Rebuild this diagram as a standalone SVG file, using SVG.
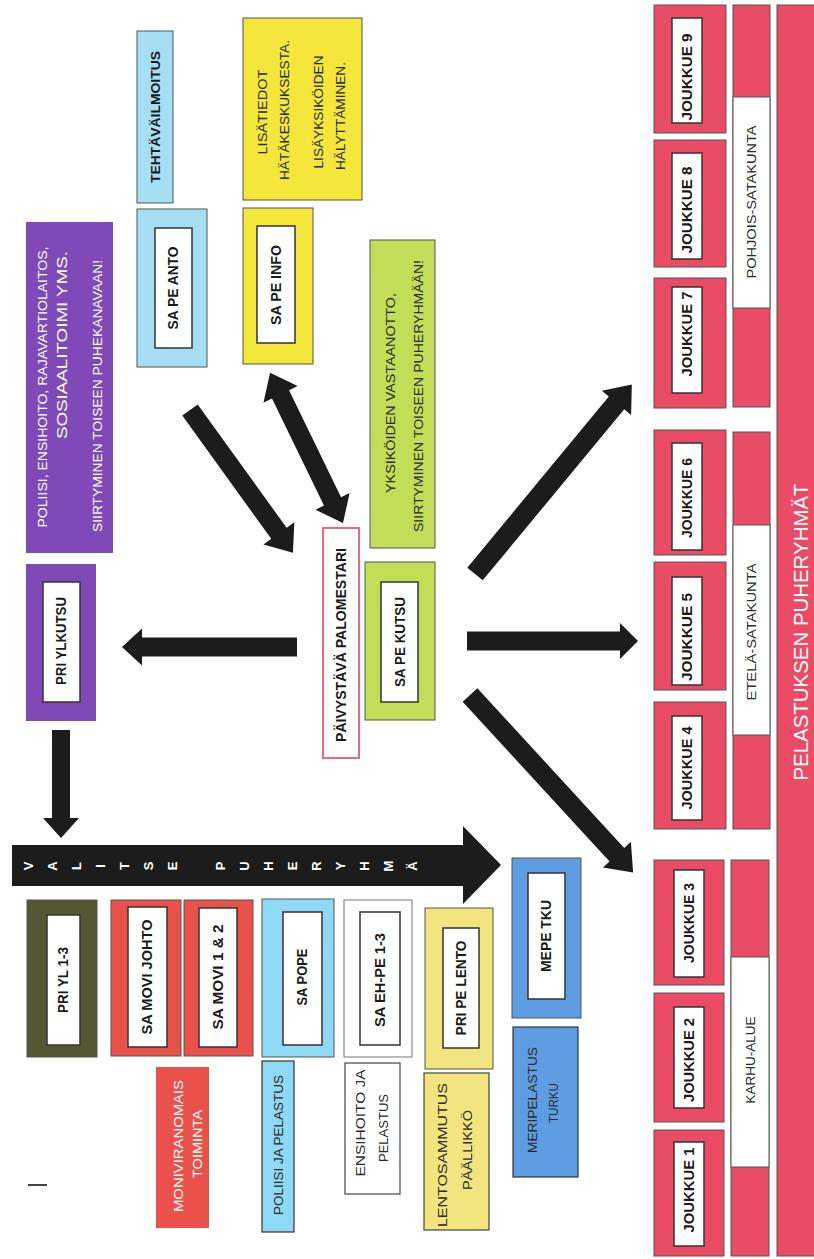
<svg xmlns="http://www.w3.org/2000/svg" width="814" height="1259" viewBox="0 0 814 1259">
<style>
text{font-family:"Liberation Sans",Arial,sans-serif;text-anchor:middle;dominant-baseline:central;}
.b{font-weight:bold;font-size:14px;fill:#1a1a1a;}
.r{font-size:13px;fill:#2a2a2a;}
.w{font-size:13px;fill:#ffffff;}
.in{fill:#ffffff;stroke:#333;stroke-width:1.5;}
.ob{stroke:#555;stroke-width:1;}
.lb{fill:#a6dff3;}
.cy{fill:#8fd9f4;}
.ye{fill:#f4e63a;}
.py{fill:#f2e47e;}
.pu{fill:#7f4ab8;}
.gr{fill:#c3dd58;}
.rd{fill:#e8524b;}
.ol{fill:#545832;}
.pk{fill:#e94c64;}
.bl{fill:#5f9de3;}
.wh{fill:#ffffff;stroke:#777;}
.ar{fill:#1c1c1c;}
.vl{font-weight:bold;font-size:13px;fill:#ffffff;}
</style>

<g id="tehtavailmoitus">
<rect x="137" y="31" width="36" height="172" class="lb ob"/>
<text class="b" transform="translate(155,117) rotate(-90)" textLength="132" lengthAdjust="spacingAndGlyphs" style="font-size:13px">TEHTÄVÄILMOITUS</text>
</g>
<g id="sa-pe-anto">
<rect x="137" y="209" width="70" height="158" class="lb ob"/>
<rect x="155" y="228" width="37" height="120" class="in"/>
<text class="b" transform="translate(173,288) rotate(-90)" textLength="83" lengthAdjust="spacingAndGlyphs">SA PE ANTO</text>
</g>
<g id="lisatiedot">
<rect x="243" y="18" width="119" height="182" class="ye ob"/>
<text class="r" transform="translate(262,112) rotate(-90)" textLength="85" lengthAdjust="spacingAndGlyphs">LISÄTIEDOT</text>
<text class="r" transform="translate(284,110) rotate(-90)" textLength="140" lengthAdjust="spacingAndGlyphs">HÄTÄKESKUKSESTA.</text>
<text class="r" transform="translate(318,112) rotate(-90)" textLength="113" lengthAdjust="spacingAndGlyphs">LISÄYKSIKÖIDEN</text>
<text class="r" transform="translate(340,116) rotate(-90)" textLength="108" lengthAdjust="spacingAndGlyphs">HÄLYTTÄMINEN.</text>
</g>
<g id="sa-pe-info">
<rect x="243" y="208" width="70" height="156" class="ye ob"/>
<rect x="257" y="226" width="38" height="117" class="in"/>
<text class="b" transform="translate(276,285) rotate(-90)" textLength="80" lengthAdjust="spacingAndGlyphs">SA PE INFO</text>
</g>
<g id="poliisi-info">
<rect x="26" y="222" width="87" height="331" class="pu"/>
<text class="w" transform="translate(42,387) rotate(-90)" textLength="281" lengthAdjust="spacingAndGlyphs">POLIISI, ENSIHOITO, RAJAVARTIOLAITOS,</text>
<text class="w" transform="translate(62,345) rotate(-90)" textLength="188" lengthAdjust="spacingAndGlyphs" style="font-size:14px">SOSIAALITOIMI YMS.</text>
<text class="w" transform="translate(97,396) rotate(-90)" textLength="272" lengthAdjust="spacingAndGlyphs">SIIRTYMINEN TOISEEN PUHEKANAVAAN!</text>
</g>
<g id="pri-ylkutsu">
<rect x="26" y="564" width="70" height="157" class="pu"/>
<rect x="43" y="582" width="37" height="120" class="in"/>
<text class="b" transform="translate(61,641) rotate(-90)" textLength="88" lengthAdjust="spacingAndGlyphs">PRI YLKUTSU</text>
</g>
<g id="paivystava-palomestari">
<rect x="323" y="528" width="36" height="230" fill="#ffffff" stroke="#e66a80" stroke-width="2"/>
<text class="b" transform="translate(341,645) rotate(-90)" textLength="194" lengthAdjust="spacingAndGlyphs">PÄIVYSTÄVÄ PALOMESTARI</text>
</g>
<g id="yksikoiden-vastaanotto">
<rect x="370" y="240" width="65" height="308" class="gr ob"/>
<text class="r" transform="translate(390,393) rotate(-90)" textLength="200" lengthAdjust="spacingAndGlyphs">YKSIKÖIDEN VASTAANOTTO,</text>
<text class="r" transform="translate(418,396) rotate(-90)" textLength="272" lengthAdjust="spacingAndGlyphs">SIIRTYMINEN TOISEEN PUHERYHMÄÄN!</text>
</g>
<g id="sa-pe-kutsu">
<rect x="365" y="562" width="70" height="158" class="gr ob"/>
<rect x="381" y="582" width="37" height="120" class="in"/>
<text class="b" transform="translate(400,642) rotate(-90)" textLength="90" lengthAdjust="spacingAndGlyphs">SA PE KUTSU</text>
</g>

<g id="pri-yl-1-3">
<rect x="27" y="900" width="70" height="157" class="ol ob"/>
<rect x="47" y="915" width="33" height="130" class="in"/>
<text class="b" transform="translate(63,980) rotate(-90)" textLength="66" lengthAdjust="spacingAndGlyphs">PRI YL 1-3</text>
</g>
<g id="sa-movi-johto">
<rect x="111" y="900" width="70" height="156" class="rd ob"/>
<rect x="128" y="907" width="39" height="140" class="in"/>
<text class="b" transform="translate(147,977) rotate(-90)" textLength="115" lengthAdjust="spacingAndGlyphs">SA MOVI JOHTO</text>
</g>
<g id="sa-movi-1-2">
<rect x="184" y="900" width="69" height="156" class="rd ob"/>
<rect x="199" y="908" width="38" height="139" class="in"/>
<text class="b" transform="translate(218,977) rotate(-90)" textLength="105" lengthAdjust="spacingAndGlyphs">SA MOVI 1 &amp; 2</text>
</g>
<g id="moniviranomais">
<rect x="156" y="1067" width="53" height="161" class="rd"/>
<text class="w" transform="translate(178,1146) rotate(-90)" textLength="132" lengthAdjust="spacingAndGlyphs">MONIVIRANOMAIS</text>
<text class="w" transform="translate(197,1144) rotate(-90)" textLength="68" lengthAdjust="spacingAndGlyphs">TOIMINTA</text>
</g>
<g id="sa-pope">
<rect x="262" y="899" width="72" height="158" class="cy ob"/>
<rect x="283" y="912" width="39" height="133" class="in"/>
<text class="b" transform="translate(302,977) rotate(-90)" textLength="57" lengthAdjust="spacingAndGlyphs">SA POPE</text>
</g>
<g id="poliisi-ja-pelastus">
<rect x="262" y="1061" width="32" height="171" class="cy" stroke="#333" stroke-width="1.2"/>
<text class="r" transform="translate(278,1145) rotate(-90)" textLength="140" lengthAdjust="spacingAndGlyphs">POLIISI JA PELASTUS</text>
</g>
<g id="sa-eh-pe-1-3">
<rect x="344" y="900" width="68" height="157" class="wh"/>
<rect x="360" y="912" width="40" height="133" class="in"/>
<text class="b" transform="translate(380,980) rotate(-90)" textLength="94" lengthAdjust="spacingAndGlyphs">SA EH-PE 1-3</text>
</g>
<g id="ensihoito-ja-pelastus">
<rect x="345" y="1063" width="55" height="131" fill="#ffffff" stroke="#444" stroke-width="1.2"/>
<text class="r" transform="translate(360,1123) rotate(-90)" textLength="107" lengthAdjust="spacingAndGlyphs">ENSIHOITO JA</text>
<text class="r" transform="translate(383,1128) rotate(-90)" textLength="68" lengthAdjust="spacingAndGlyphs">PELASTUS</text>
</g>
<g id="pri-pe-lento">
<rect x="425" y="908" width="68" height="161" class="py ob"/>
<rect x="443" y="928" width="36" height="120" class="in"/>
<text class="b" transform="translate(461,988) rotate(-90)" textLength="95" lengthAdjust="spacingAndGlyphs">PRI PE LENTO</text>
</g>
<g id="lentosammutus">
<rect x="424" y="1073" width="65" height="157" class="py" stroke="#444" stroke-width="1.2"/>
<text class="r" transform="translate(442,1155) rotate(-90)" textLength="144" lengthAdjust="spacingAndGlyphs">LENTOSAMMUTUS</text>
<text class="r" transform="translate(467,1150) rotate(-90)" textLength="80" lengthAdjust="spacingAndGlyphs">PÄÄLLIKKÖ</text>
</g>
<g id="mepe-tku">
<rect x="512" y="858" width="69" height="160" class="bl ob"/>
<rect x="528" y="873" width="37" height="126" class="in"/>
<text class="b" transform="translate(546,936) rotate(-90)" textLength="72" lengthAdjust="spacingAndGlyphs">MEPE TKU</text>
</g>
<g id="meripelastus-turku">
<rect x="513" y="1027" width="65" height="150" class="bl" stroke="#333" stroke-width="1.2"/>
<text class="r" transform="translate(532,1100) rotate(-90)" textLength="106" lengthAdjust="spacingAndGlyphs">MERIPELASTUS</text>
<text class="r" transform="translate(553,1103) rotate(-90)" textLength="40" lengthAdjust="spacingAndGlyphs">TURKU</text>
</g>
<line x1="28" y1="1185" x2="47" y2="1185" stroke="#444" stroke-width="2"/>

<g id="joukkueet">
<g id="joukkue-9"><rect x="654" y="5" width="72" height="128" class="pk ob"/><rect x="672" y="18" width="30" height="105" class="in"/><text class="b" transform="translate(687,77) rotate(-90)" textLength="87" lengthAdjust="spacingAndGlyphs">JOUKKUE 9</text></g>
<g id="joukkue-8"><rect x="654" y="140" width="72" height="127" class="pk ob"/><rect x="672" y="153" width="30" height="106" class="in"/><text class="b" transform="translate(687,210) rotate(-90)" textLength="87" lengthAdjust="spacingAndGlyphs">JOUKKUE 8</text></g>
<g id="joukkue-7"><rect x="654" y="278" width="72" height="130" class="pk ob"/><rect x="672" y="287" width="30" height="106" class="in"/><text class="b" transform="translate(687,334) rotate(-90)" textLength="85" lengthAdjust="spacingAndGlyphs">JOUKKUE 7</text></g>
<g id="joukkue-6"><rect x="654" y="430" width="72" height="125" class="pk ob"/><rect x="672" y="443" width="30" height="107" class="in"/><text class="b" transform="translate(687,498) rotate(-90)" textLength="80" lengthAdjust="spacingAndGlyphs">JOUKKUE 6</text></g>
<g id="joukkue-5"><rect x="654" y="562" width="72" height="128" class="pk ob"/><rect x="672" y="577" width="30" height="108" class="in"/><text class="b" transform="translate(687,637) rotate(-90)" textLength="88" lengthAdjust="spacingAndGlyphs">JOUKKUE 5</text></g>
<g id="joukkue-4"><rect x="654" y="702" width="72" height="127" class="pk ob"/><rect x="672" y="716" width="30" height="104" class="in"/><text class="b" transform="translate(687,768) rotate(-90)" textLength="83" lengthAdjust="spacingAndGlyphs">JOUKKUE 4</text></g>
<g id="joukkue-3"><rect x="654" y="860" width="70" height="125" class="pk ob"/><rect x="674" y="870" width="30" height="107" class="in"/><text class="b" transform="translate(689,923) rotate(-90)" textLength="80" lengthAdjust="spacingAndGlyphs">JOUKKUE 3</text></g>
<g id="joukkue-2"><rect x="654" y="993" width="70" height="129" class="pk ob"/><rect x="674" y="1007" width="30" height="101" class="in"/><text class="b" transform="translate(689,1060) rotate(-90)" textLength="84" lengthAdjust="spacingAndGlyphs">JOUKKUE 2</text></g>
<g id="joukkue-1"><rect x="654" y="1130" width="70" height="126" class="pk ob"/><rect x="674" y="1142" width="30" height="104" class="in"/><text class="b" transform="translate(689,1190) rotate(-90)" textLength="85" lengthAdjust="spacingAndGlyphs">JOUKKUE 1</text></g>
</g>
<g id="pohjois-satakunta">
<rect x="733" y="5" width="37" height="402" class="pk ob"/>
<rect x="733" y="97" width="37" height="211" fill="#ffffff" stroke="#555"/>
<text class="r" transform="translate(751,202) rotate(-90)" textLength="153" lengthAdjust="spacingAndGlyphs">POHJOIS-SATAKUNTA</text>
</g>
<g id="etela-satakunta">
<rect x="733" y="432" width="37" height="397" class="pk ob"/>
<rect x="733" y="525" width="37" height="210" fill="#ffffff" stroke="#555"/>
<text class="r" transform="translate(751,632) rotate(-90)" textLength="137" lengthAdjust="spacingAndGlyphs">ETELÄ-SATAKUNTA</text>
</g>
<g id="karhu-alue">
<rect x="731" y="860" width="38" height="396" class="pk ob"/>
<rect x="731" y="957" width="38" height="210" fill="#ffffff" stroke="#555"/>
<text class="r" transform="translate(750,1060) rotate(-90)" textLength="87" lengthAdjust="spacingAndGlyphs">KARHU-ALUE</text>
</g>
<g id="pelastuksen-puheryhmat">
<rect x="777" y="5" width="40" height="1251" class="pk ob"/>
<text transform="translate(800,632) rotate(-90)" style="font-size:21px;fill:#ffffff" textLength="297" lengthAdjust="spacingAndGlyphs">PELASTUKSEN PUHERYHMÄT</text>
</g>

<g id="connectors">
<path class="ar" transform="translate(190,410) rotate(54.2)" d="M0,-9.5 H152 V-19 L176,0 L152,19 V9.5 H0 Z"/>
<path class="ar" transform="translate(343,523) rotate(-115.9)" d="M0,0 L24,-19 V-9.5 H143 V-19 L167,0 L143,19 V9.5 H24 V19 Z"/>
<path class="ar" transform="translate(297,647) rotate(180)" d="M0,-9.5 H155 V-18.5 L175,0 L155,18.5 V9.5 H0 Z"/>
<path class="ar" transform="translate(61,730) rotate(90)" d="M0,-9 H88 V-18 L108,0 L88,18 V9 H0 Z"/>
<path class="ar" transform="translate(467,641) rotate(0)" d="M0,-9.5 H153 V-18 L171,0 L153,18 V9.5 H0 Z"/>
<path class="ar" transform="translate(470,695) rotate(47.4)" d="M0,-10 H217 V-19 L241,0 L217,19 V10 H0 Z"/>
<path class="ar" transform="translate(475,574) rotate(-50.4)" d="M0,-10 H222 V-19 L246,0 L222,19 V10 H0 Z"/>
<g id="valitse-puheryhma">
<path class="ar" d="M12,845 H463 V826 L501,865 L463,904 V886 H12 Z"/>
<text class="vl" transform="translate(28,866) rotate(-90)">V</text>
<text class="vl" transform="translate(52,866) rotate(-90)">A</text>
<text class="vl" transform="translate(76,866) rotate(-90)">L</text>
<text class="vl" transform="translate(100,866) rotate(-90)">I</text>
<text class="vl" transform="translate(124,866) rotate(-90)">T</text>
<text class="vl" transform="translate(148,866) rotate(-90)">S</text>
<text class="vl" transform="translate(172,866) rotate(-90)">E</text>
<text class="vl" transform="translate(220,866) rotate(-90)">P</text>
<text class="vl" transform="translate(244,866) rotate(-90)">U</text>
<text class="vl" transform="translate(268,866) rotate(-90)">H</text>
<text class="vl" transform="translate(292,866) rotate(-90)">E</text>
<text class="vl" transform="translate(316,866) rotate(-90)">R</text>
<text class="vl" transform="translate(340,866) rotate(-90)">Y</text>
<text class="vl" transform="translate(364,866) rotate(-90)">H</text>
<text class="vl" transform="translate(388,866) rotate(-90)">M</text>
<text class="vl" transform="translate(412,866) rotate(-90)">Ä</text>
</g>
</g>
</svg>
